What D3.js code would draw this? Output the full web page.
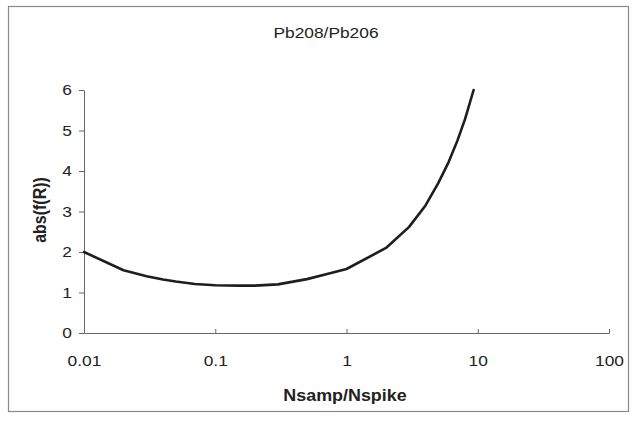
<!DOCTYPE html>
<html><head><meta charset="utf-8">
<script src="https://cdn.jsdelivr.net/npm/d3@7"></script>
<style>body{margin:0;background:#fff}svg{display:block}</style>
</head><body>
<svg id="c" width="637" height="426"></svg>
<script>
const xValues = [0.01, 0.02, 0.03, 0.04, 0.05, 0.07, 0.1, 0.15, 0.2, 0.3, 0.5, 0.7, 1, 2, 3, 4, 5, 6, 7, 8, 9.3];
const yValues = [2.00, 1.55, 1.40, 1.32, 1.27, 1.21, 1.18, 1.17, 1.17, 1.20, 1.33, 1.45, 1.58, 2.10, 2.62, 3.15, 3.70, 4.22, 4.75, 5.28, 6.00];
const xTicks = [0.01, 0.1, 1, 10, 100];
const yTicks = [0, 1, 2, 3, 4, 5, 6];
const title = "Pb208/Pb206";
const xTitle = "Nsamp/Nspike";
const yTitle = "abs(f(R))";

const svg = d3.select("#c");
const font = "'Liberation Sans', Arial, sans-serif";
const sx = 1.12;
svg.append("rect").attr("x", 8.5).attr("y", 6.5).attr("width", 620).attr("height", 405)
  .attr("fill", "#fff").attr("stroke", "#8a8a8a").attr("stroke-width", 1.2);

const x = d3.scaleLog().domain([0.01, 100]).range([84, 609]);
const y = d3.scaleLinear().domain([0, 6]).range([333, 90]);

const xAxis = d3.axisBottom(x).tickValues(xTicks).tickSize(-4).tickSizeOuter(0)
  .tickFormat(d => String(d)).tickPadding(0);
const gx = svg.append("g").attr("transform", `translate(0,${y(0)})`).call(xAxis);
gx.select(".domain").attr("stroke", "#666");
gx.selectAll(".tick line").attr("stroke", "#666");
gx.selectAll(".tick text").attr("font-family", font).attr("font-size", 15.5).attr("fill", "#222")
  .attr("y", 33).attr("dy", 0).attr("transform", `scale(${sx},1)`);

const yAxis = d3.axisLeft(y).tickValues(yTicks).tickSize(5).tickSizeOuter(0).tickPadding(0)
  .tickFormat(d3.format("d"));
const gy = svg.append("g").attr("transform", `translate(${x(0.01)},0)`).call(yAxis);
gy.select(".domain").attr("stroke", "#666");
gy.selectAll(".tick line").attr("stroke", "#666");
gy.selectAll(".tick text").attr("font-family", font).attr("font-size", 15.5).attr("fill", "#222")
  .attr("x", -12 / sx).attr("transform", `scale(${sx},1)`);

const data = xValues.map((v, i) => [v, yValues[i]]);
svg.append("path").datum(data)
  .attr("d", d3.line().x(d => x(d[0])).y(d => y(d[1])))
  .attr("fill", "none").attr("stroke", "#1e1e1e").attr("stroke-width", 2.6)
  .attr("stroke-linejoin", "round").attr("stroke-linecap", "round");

svg.append("text").attr("transform", `translate(326,38) scale(${sx},1)`).attr("text-anchor", "middle")
  .attr("font-family", font).attr("font-size", 15.5).attr("fill", "#222").text(title);
svg.append("text").attr("transform", `translate(345,401) scale(${sx},1)`).attr("text-anchor", "middle")
  .attr("font-family", font).attr("font-size", 16).attr("font-weight", "bold").attr("fill", "#222").text(xTitle);
svg.append("text").attr("transform", `translate(46,210) rotate(-90) scale(1.0,${sx})`).attr("text-anchor", "middle")
  .attr("font-family", font).attr("font-size", 16).attr("font-weight", "bold").attr("fill", "#222").text(yTitle);
</script>
</body></html>
